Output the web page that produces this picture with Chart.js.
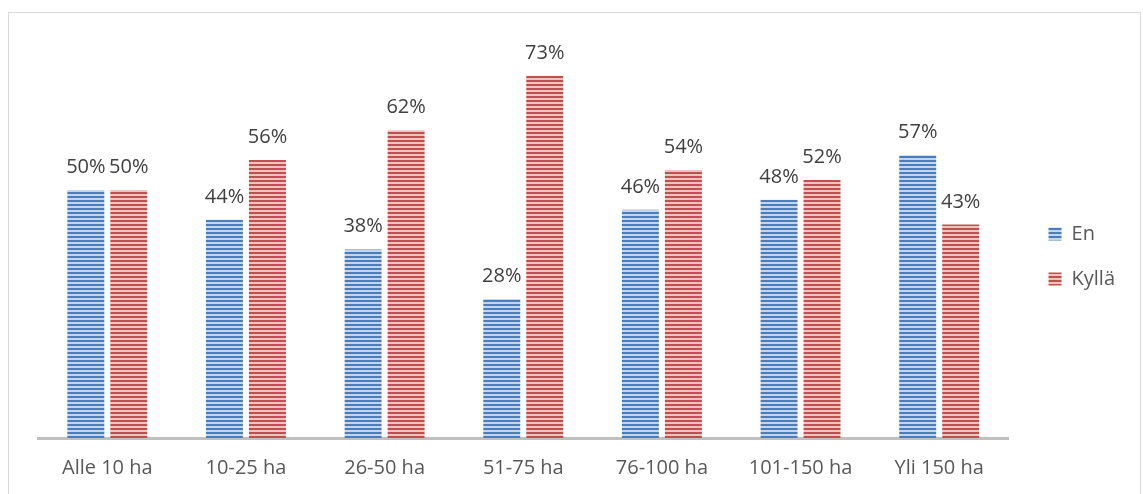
<!DOCTYPE html>
<html>
<head>
<meta charset="utf-8">
<script src="https://cdn.jsdelivr.net/npm/chart.js@4/dist/chart.umd.min.js"></script>
<style>
  body { margin: 0; background: #fff; overflow: hidden; }
  #frame {
    position: absolute; left: 8px; top: 12px; width: 1133px; height: 500px;
    border: 1px solid #d9d9d9; box-sizing: border-box;
  }
  #chart { position: absolute; left: 0; top: 0; }
</style>
</head>
<body>
<div id="frame"></div>
<canvas id="chart" width="1143" height="494"></canvas>
<script>
const categories = ["Alle 10 ha", "10-25 ha", "26-50 ha", "51-75 ha", "76-100 ha", "101-150 ha", "Yli 150 ha"];
const en_values = [50, 44, 38, 28, 46, 48, 57];
const kylla_values = [50, 56, 62, 73, 54, 52, 43];

function make_stripes(dark, light) {
  const c = document.createElement("canvas");
  c.width = 4;
  c.height = 4;
  const ctx = c.getContext("2d");
  ctx.fillStyle = dark;
  ctx.fillRect(0, 0, 4, 2);
  ctx.fillStyle = light;
  ctx.fillRect(0, 2, 4, 2);
  return ctx.createPattern(c, "repeat");
}

const blue_fill = make_stripes("#4a7ebb", "#c3d4ec");
const red_fill = make_stripes("#c0504d", "#edc3c2");

// nudge the legend a little away from the plot, like the original
const legend_shift = {
  id: "legend_shift",
  afterLayout(chart) {
    const lg = chart.legend;
    lg.left += 15;
    lg.right += 15;
    lg.top -= 9;
    lg.bottom -= 9;
  },
};

const value_labels = {
  id: "value_labels",
  afterDatasetsDraw(chart) {
    const ctx = chart.ctx;
    ctx.save();
    ctx.font = "20px 'Open Sans'";
    ctx.fillStyle = "#404040";
    ctx.textAlign = "center";
    ctx.textBaseline = "alphabetic";
    chart.data.datasets.forEach((ds, i) => {
      chart.getDatasetMeta(i).data.forEach((bar, j) => {
        ctx.fillText(ds.data[j] + "%", bar.x, bar.y - 17);
      });
    });
    ctx.restore();
  },
};

new Chart(document.getElementById("chart"), {
  type: "bar",
  data: {
    labels: categories,
    datasets: [
      { label: "En", data: en_values, backgroundColor: blue_fill },
      { label: "Kyllä", data: kylla_values, backgroundColor: red_fill },
    ],
  },
  options: {
    responsive: false,
    animation: false,
    categoryPercentage: 0.62,
    barPercentage: 0.86,
    layout: { padding: { left: 38, top: 41, right: 33, bottom: 4 } },
    plugins: {
      tooltip: { enabled: false },
      legend: {
        position: "right",
        labels: {
          boxWidth: 13,
          boxHeight: 13,
          padding: 25,
          color: "#595959",
          font: { family: "'Open Sans'", size: 20 },
        },
      },
    },
    scales: {
      x: {
        grid: { display: false },
        border: { display: true, color: "#c0c0c0", width: 3 },
        ticks: { color: "#595959", padding: 10, font: { family: "'Open Sans'", size: 20 } },
      },
      y: { display: false, min: 0, max: 80 },
    },
  },
  plugins: [legend_shift, value_labels],
});
</script>
</body>
</html>
